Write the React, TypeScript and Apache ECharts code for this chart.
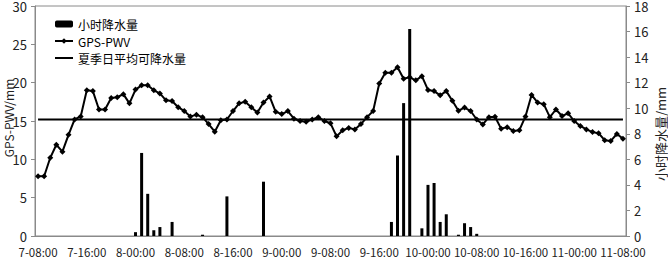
import React, { useEffect, useRef } from "react";
import * as echarts from "echarts";

const FONT = "'Noto Sans CJK SC', 'Noto Sans', sans-serif";

// hourly categories from 7-08:00 to 11-08:00
const START_DAY = 7;
const START_HOUR = 8;
const N_HOURS = 97;
const categories: string[] = Array.from({ length: N_HOURS }, (_, i) => {
  const h = START_HOUR + i;
  const d = START_DAY + Math.floor(h / 24);
  const hh = h % 24;
  return `${d}-${hh < 10 ? "0" + hh : hh}:00`;
});

// GPS-PWV (mm), left axis
const pwv = [
  7.8, 7.8, 10.2, 11.9, 11.0, 13.2, 15.2, 15.6, 19.0, 18.9,
  16.5, 16.5, 18.0, 18.1, 18.5, 17.3, 19.1, 19.65, 19.65, 19.0,
  18.6, 17.7, 17.6, 16.8, 16.3, 15.6, 15.8, 15.5, 14.6, 13.6,
  15.1, 15.2, 16.3, 17.3, 17.5, 16.8, 16.1, 17.4, 18.2, 16.2,
  15.9, 16.3, 15.3, 15.0, 14.9, 15.2, 15.5, 15.0, 14.7, 13.0,
  13.8, 14.1, 13.9, 14.6, 15.5, 16.3, 19.9, 21.3, 21.3, 22.0,
  20.5, 20.7, 20.3, 20.85, 19.05, 18.9, 18.35, 18.9, 17.65, 16.35,
  16.75, 16.3, 15.2, 14.55, 15.5, 15.55, 14.0, 14.2, 13.7, 13.8,
  15.6, 18.4, 17.4, 17.2, 15.5, 16.5, 15.65, 16.0, 15.0, 14.35,
  13.9, 13.55, 13.4, 12.5, 12.4, 13.3, 12.7,
];

// hourly rainfall (mm), right axis
const rain = [
  0, 0, 0, 0, 0, 0, 0, 0, 0, 0,
  0, 0, 0, 0, 0, 0, 0.3, 6.5, 3.3, 0.45,
  0.7, 0, 1.1, 0, 0, 0, 0, 0.1, 0, 0,
  0, 3.1, 0, 0, 0, 0, 0, 4.25, 0, 0,
  0, 0, 0, 0, 0, 0, 0, 0, 0, 0,
  0, 0, 0, 0, 0, 0, 0, 0, 1.1, 6.3,
  10.4, 16.2, 0, 0.6, 4.0, 4.15, 1.1, 1.7, 0, 0.1,
  1.0, 0.7, 0.17, 0, 0, 0, 0, 0, 0, 0,
  0, 0, 0, 0, 0, 0, 0, 0, 0, 0,
  0, 0, 0, 0, 0, 0, 0,
];

// summer daily mean PWV (mm)
const AVG_PWV = 15.2;
const avgLine = categories.map(() => AVG_PWV);

const SERIES_NAMES = ["小时降水量", "GPS-PWV", "夏季日平均可降水量"];
const LEFT_AXIS_NAME = "GPS-PWV/mm";
const RIGHT_AXIS_NAME = "小时降水量/mm";

const AXIS_GRAY = "#8a8a8a";
const TEXT_COLOR = "#222";

export default function App() {
  const ref = useRef<HTMLDivElement>(null);
  useEffect(() => {
    if (!ref.current) return;
    const chart = echarts.init(ref.current, undefined, { renderer: "svg" });
    chart.setOption({
      animation: false,
      textStyle: { fontFamily: FONT },
      grid: {
        left: 35,
        right: 42,
        top: 6,
        bottom: 25,
        containLabel: false,
        outerBoundsMode: "none",
        show: true,
        borderColor: AXIS_GRAY,
        borderWidth: 1,
      },
      legend: {
        orient: "vertical",
        left: 49,
        top: 13,
        itemWidth: 18,
        itemHeight: 7,
        itemGap: 5,
        textStyle: { fontSize: 12, color: "#000", fontFamily: FONT },
        data: [
          { name: SERIES_NAMES[0] },
          { name: SERIES_NAMES[1] },
          { name: SERIES_NAMES[2], itemStyle: { opacity: 0 } },
        ],
      },
      xAxis: {
        type: "category",
        data: categories,
        boundaryGap: true,
        axisLine: { lineStyle: { color: AXIS_GRAY } },
        axisTick: { inside: true, interval: 7, length: 4, lineStyle: { color: AXIS_GRAY } },
        axisLabel: {
          interval: 7,
          color: TEXT_COLOR,
          fontSize: 11.5,
          lineHeight: 12,
          margin: 10,
          fontFamily: FONT,
          hideOverlap: false,
          showMaxLabel: true,
        },
        splitLine: { show: false },
      },
      yAxis: [
        {
          type: "value",
          min: 0,
          max: 30,
          interval: 5,
          axisLine: { show: true, lineStyle: { color: AXIS_GRAY } },
          axisTick: { show: true, length: 4, lineStyle: { color: AXIS_GRAY } },
          axisLabel: { fontSize: 13, lineHeight: 12, color: TEXT_COLOR, margin: 8, fontFamily: FONT },
          splitLine: { show: false },
        },
        {
          type: "value",
          min: 0,
          max: 18,
          interval: 2,
          position: "right",
          axisLine: { show: true, lineStyle: { color: AXIS_GRAY } },
          axisTick: { show: true, length: 4, lineStyle: { color: AXIS_GRAY } },
          axisLabel: { fontSize: 13, lineHeight: 12, color: TEXT_COLOR, margin: 8, fontFamily: FONT },
          splitLine: { show: false },
        },
      ],
      graphic: [
        {
          type: "text",
          x: 8,
          y: 118,
          rotation: Math.PI / 2,
          style: {
            text: LEFT_AXIS_NAME,
            fontSize: 12,
            fontFamily: FONT,
            fill: TEXT_COLOR,
            align: "center",
            verticalAlign: "middle",
          },
        },
        {
          type: "text",
          x: 660,
          y: 134,
          rotation: Math.PI / 2,
          style: {
            text: RIGHT_AXIS_NAME,
            fontSize: 13,
            fontFamily: FONT,
            fill: TEXT_COLOR,
            align: "center",
            verticalAlign: "middle",
          },
        },
      ],
      series: [
        {
          name: SERIES_NAMES[0],
          type: "bar",
          yAxisIndex: 1,
          data: rain,
          barWidth: 3,
          itemStyle: { color: "#000" },
        },
        {
          name: SERIES_NAMES[1],
          type: "line",
          yAxisIndex: 0,
          data: pwv,
          symbol: "diamond",
          symbolSize: 6,
          showAllSymbol: true,
          lineStyle: { color: "#000", width: 2 },
          itemStyle: { color: "#000" },
        },
        {
          name: SERIES_NAMES[2],
          type: "line",
          yAxisIndex: 0,
          data: avgLine,
          symbol: "none",
          lineStyle: { color: "#000", width: 2 },
          itemStyle: { color: "#000" },
        },
      ],
    });
    return () => chart.dispose();
  }, []);
  return (
    <div
      ref={ref}
      style={{ position: "absolute", left: 0, top: 0, width: 668, height: 261, background: "#fff" }}
    />
  );
}
